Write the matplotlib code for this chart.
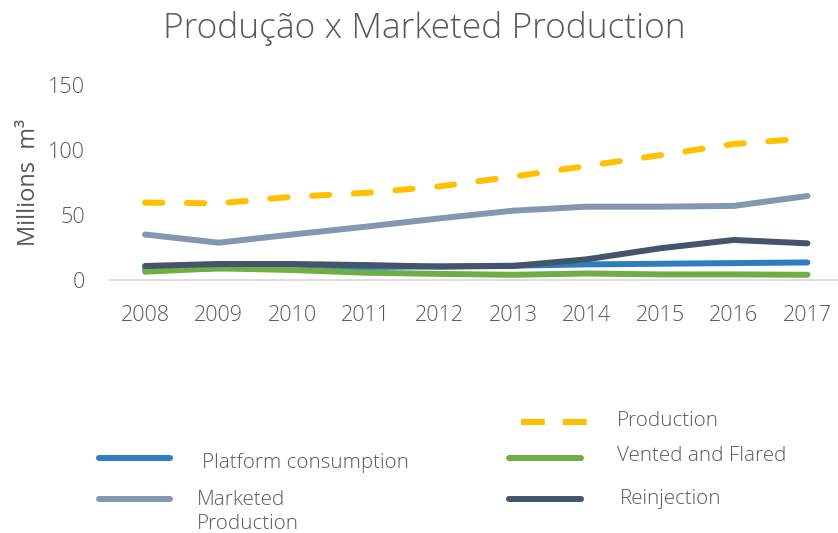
import matplotlib
matplotlib.use('Agg')
import matplotlib.pyplot as plt
from matplotlib.lines import Line2D

years = ['2008', '2009', '2010', '2011', '2012', '2013', '2014', '2015', '2016', '2017']
production = [59.5, 59, 64, 67, 72, 79.5, 87.7, 96, 104.6, 109]
platform = [8, 9, 9.5, 10, 10.5, 11, 12, 12.5, 13, 13.5]
vented = [6.4, 9, 7.7, 5.6, 4.7, 4, 5, 4.3, 4.3, 4]
marketed = [35, 28.7, 35, 41, 47.4, 53.3, 56.4, 56.4, 57, 64.6]
reinjection = [10.8, 12.3, 12.3, 11.5, 10.3, 10.8, 15.9, 24.4, 30.8, 28.2]

names = ['Production', 'Platform consumption', 'Vented and Flared', 'Marketed\nProduction', 'Reinjection']
colors = ['#ffc000', '#2e7ebf', '#70ad47', '#8497b0', '#44546a']
series = [production, platform, vented, marketed, reinjection]

txt = '#595959'
plt.rcParams['font.family'] = ['Open Sans', 'DejaVu Sans']
plt.rcParams['font.weight'] = 'light'

W, H = 838, 533
fig = plt.figure(figsize=(W / 100, H / 100), dpi=100)
ax = fig.add_axes([110 / W, (H - 280) / H, (W - 110) / W, 195 / H])

x = list(range(len(years)))
lw = 4.3
for i, (vals, c) in enumerate(zip(series, colors)):
    if i == 0:
        ax.plot(x, vals, color=c, lw=lw, dashes=(2.9, 4.1), dash_capstyle='round')
    else:
        ax.plot(x, vals, color=c, lw=lw, solid_capstyle='round')

ax.set_xlim(-0.476, 9.416)
ax.set_ylim(0, 150)
ax.set_yticks([0, 50, 100, 150])
ax.set_xticks(x)
ax.set_xticklabels(years)
for s in ['top', 'right', 'left']:
    ax.spines[s].set_visible(False)
ax.spines['bottom'].set_color('#d9d9d9')
ax.spines['bottom'].set_linewidth(1.2)
ax.tick_params(axis='both', length=0, labelsize=15.5, colors=txt)
ax.tick_params(axis='y', pad=18)
ax.tick_params(axis='x', pad=18)
ax.set_ylabel('Millions  m³', fontsize=17, color=txt, labelpad=5)

fig.text(424 / W, 1 - 29 / H, 'Produção x Marketed Production', fontsize=25.5,
         color=txt, ha='center', va='center')


# legend, laid out by hand like the original
def px(xp, yp):
    return xp / W, 1 - yp / H


leg = [
    # (line x0, x1, line y, text x, text y)
    (521, 587, 422, 617, 421),
    (99, 170, 458, 202, 463),
    (509, 581, 458, 617, 456),
    (99, 170, 499, 197, 512),
    (509, 581, 499, 620, 499),
]
for i, (x0, x1, ly, tx, ty) in enumerate(leg):
    a, b = px(x0, ly)
    c, _ = px(x1, ly)
    if i == 0:
        ln = Line2D([a, c], [b, b], color=colors[i], lw=lw, dashes=(4, 3),
                    dash_capstyle='butt', transform=fig.transFigure)
    else:
        ln = Line2D([a, c], [b, b], color=colors[i], lw=lw, solid_capstyle='round',
                    transform=fig.transFigure)
    fig.add_artist(ln)
    tx_, ty_ = px(tx, ty)
    fig.text(tx_, ty_, names[i], fontsize=14.8, color=txt, ha='left', va='center',
             linespacing=1.3)

fig.savefig('out.png', dpi=100)
